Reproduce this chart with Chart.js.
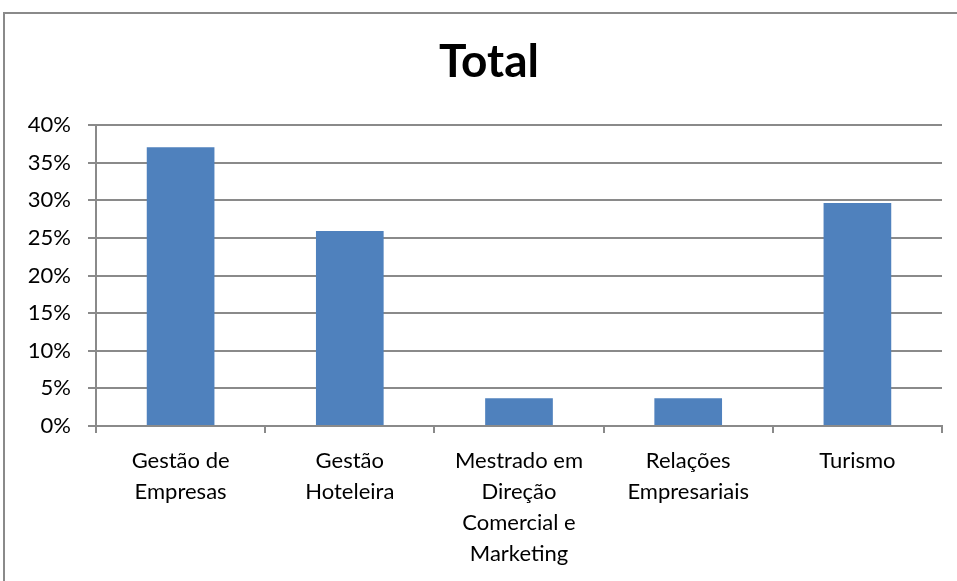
<!DOCTYPE html>
<html lang="pt">
<head>
    <meta charset="UTF-8">
    <title>Total</title>
    <script src="https://cdn.jsdelivr.net/npm/chart.js"></script>
    <style>
        html, body { margin: 0; padding: 0; background: #fff; overflow: hidden; }
        #wrap { position: relative; width: 957px; height: 581px; }
        #frame {
            position: absolute; left: 3px; top: 12px; width: 1100px; height: 1100px;
            border: 2px solid #8a8a8a; pointer-events: none; box-sizing: border-box;
        }
    </style>
</head>
<body>
<div id="wrap">
    <canvas id="totalChart" width="957" height="581"></canvas>
    <div id="frame"></div>
</div>
<script>
    // dados
    const titulo = 'Total';
    const cursos = [
        ['Gestão de', 'Empresas'],
        ['Gestão', 'Hoteleira'],
        ['Mestrado em', 'Direção', 'Comercial e', 'Marketing'],
        ['Relações', 'Empresariais'],
        ['Turismo']
    ];
    const percentagens = [0.3704, 0.2593, 0.0370, 0.0370, 0.2963];
    const yTicks = [0, 0.05, 0.10, 0.15, 0.20, 0.25, 0.30, 0.35, 0.40];

    const cinza = '#8a8a8a';
    const fonte = 'Lato, "Open Sans", sans-serif';

    // título centrado na moldura (como no Excel), não só na área do canvas
    const tituloPlugin = {
        id: 'tituloCentrado',
        afterDraw(chart) {
            const c = chart.ctx;
            c.save();
            c.font = 'bold 46px ' + fonte;
            c.fillStyle = '#000';
            c.textAlign = 'center';
            c.textBaseline = 'middle';
            c.fillText(titulo, 489, 62);
            c.restore();
        }
    };

    const ctx = document.getElementById('totalChart').getContext('2d');
    new Chart(ctx, {
        type: 'bar',
        data: {
            labels: cursos,
            datasets: [{
                label: titulo,
                data: percentagens,
                backgroundColor: '#4F81BD',
                categoryPercentage: 0.4,
                barPercentage: 1.0
            }]
        },
        plugins: [tituloPlugin],
        options: {
            responsive: false,
            animation: false,
            layout: { padding: { left: 0, right: 15, top: 125, bottom: 0 } },
            plugins: {
                legend: { display: false },
                tooltip: { enabled: false },
                title: { display: false }
            },
            scales: {
                x: {
                    grid: {
                        offset: true,
                        drawOnChartArea: false,
                        drawTicks: true,
                        tickLength: 7,
                        color: cinza,
                        lineWidth: 2
                    },
                    border: { color: cinza, width: 2 },
                    ticks: {
                        color: '#000',
                        font: { family: fonte, size: 22, lineHeight: 1.41 },
                        padding: 12,
                        maxRotation: 0,
                        autoSkip: false
                    },
                    afterFit: s => { s.height = 155; }
                },
                y: {
                    min: 0,
                    max: 0.4,
                    afterBuildTicks: s => { s.ticks = yTicks.map(v => ({ value: v })); },
                    grid: { color: cinza, lineWidth: 2, tickLength: 8 },
                    border: { color: cinza, width: 2 },
                    ticks: {
                        color: '#000',
                        font: { family: fonte, size: 22 },
                        padding: 17,
                        callback: v => Math.round(v * 100) + '%'
                    },
                    afterFit: s => { s.width = 96; }
                }
            }
        }
    });
</script>
</body>
</html>
